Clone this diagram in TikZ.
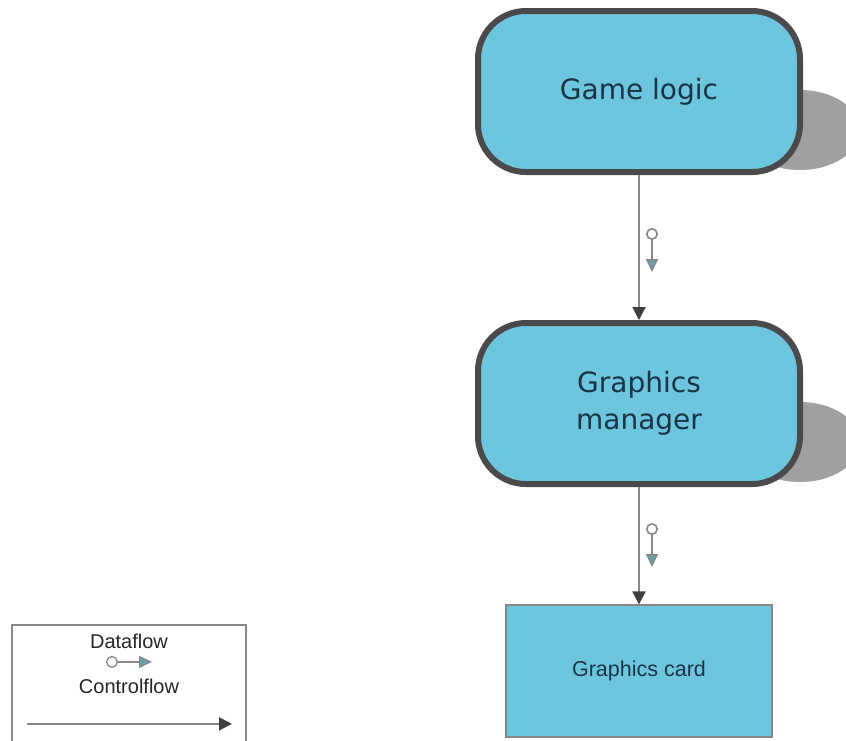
\documentclass[tikz,border=0pt]{standalone}
\usepackage{fontspec}
\setmainfont{Liberation Sans}
\newfontfamily\boxfont{DejaVu Sans}
\usetikzlibrary{arrows.meta,positioning}
\definecolor{boxfill}{RGB}{110,198,222}
\definecolor{boxline}{RGB}{74,74,76}
\definecolor{boxtext}{RGB}{24,52,70}
\definecolor{shadowgray}{RGB}{160,160,160}
\definecolor{flowline}{RGB}{136,136,136}
\definecolor{tipdark}{RGB}{64,64,66}
\definecolor{dftip}{RGB}{104,160,172}
\tikzset{
  module/.style = {draw=boxline, fill=boxfill, line width=6pt, rounded corners=48pt,
    minimum width=322pt, minimum height=161pt, align=center, text=boxtext,
    font=\boxfont\fontsize{28}{37}\selectfont},
  device/.style = {draw=flowline, fill=boxfill, line width=1.2pt,
    minimum width=266pt, minimum height=132pt, text=boxtext,
    font=\fontsize{21.5}{26}\selectfont},
  ctrl/.style = {draw=flowline, line width=2pt, -{Triangle[length=13pt,width=13pt,color=tipdark]}},
  data/.style = {draw=flowline, line width=1.6pt,
    {Circle[open,length=12pt,width=12pt]}-{Triangle[length=13pt,width=12pt,fill=dftip]}},
  legtext/.style = {text=black!85, font=\fontsize{20}{24}\selectfont}
}
\begin{document}
\begin{tikzpicture}[x=1pt, y=1pt]
\useasboundingbox (0,0) rectangle (846,-740);
% shadows
\fill[shadowgray] (800,-130) ellipse [x radius=60, y radius=40];
\fill[shadowgray] (800,-442) ellipse [x radius=60, y radius=40];
% modules
\node[module] (logic) at (639,-91.5) {Game logic};
\node[module] (manager) at (639,-403.5) {Graphics\\manager};
\node[device] (card) at (639,-671) {Graphics card};
% control flow
\draw[ctrl] (logic) -- (manager);
\draw[ctrl] (manager) -- (card);
% data flow
\path (logic.south) ++(13,-53) coordinate (d1) ++(0,-44) coordinate (d2);
\draw[data] (d1) -- (d2);
\path (manager.south) ++(13,-36) coordinate (d3) ++(0,-44) coordinate (d4);
\draw[data] (d3) -- (d4);
% legend
\draw[flowline, line width=1.2pt] (12,-760) |- (246,-625) -- (246,-760);
\node[legtext] (dflabel) at (129,-641) {Dataflow};
\path (dflabel.south) ++(-23,-10) coordinate (l1) ++(46,0) coordinate (l2);
\draw[data, line width=1.3pt] (l1) -- (l2);
\node[legtext] (cflabel) at (129,-686) {Controlflow};
\path (cflabel.south) ++(-102,-27) coordinate (l3) ++(205,0) coordinate (l4);
\draw[ctrl] (l3) -- (l4);
\end{tikzpicture}
\end{document}
